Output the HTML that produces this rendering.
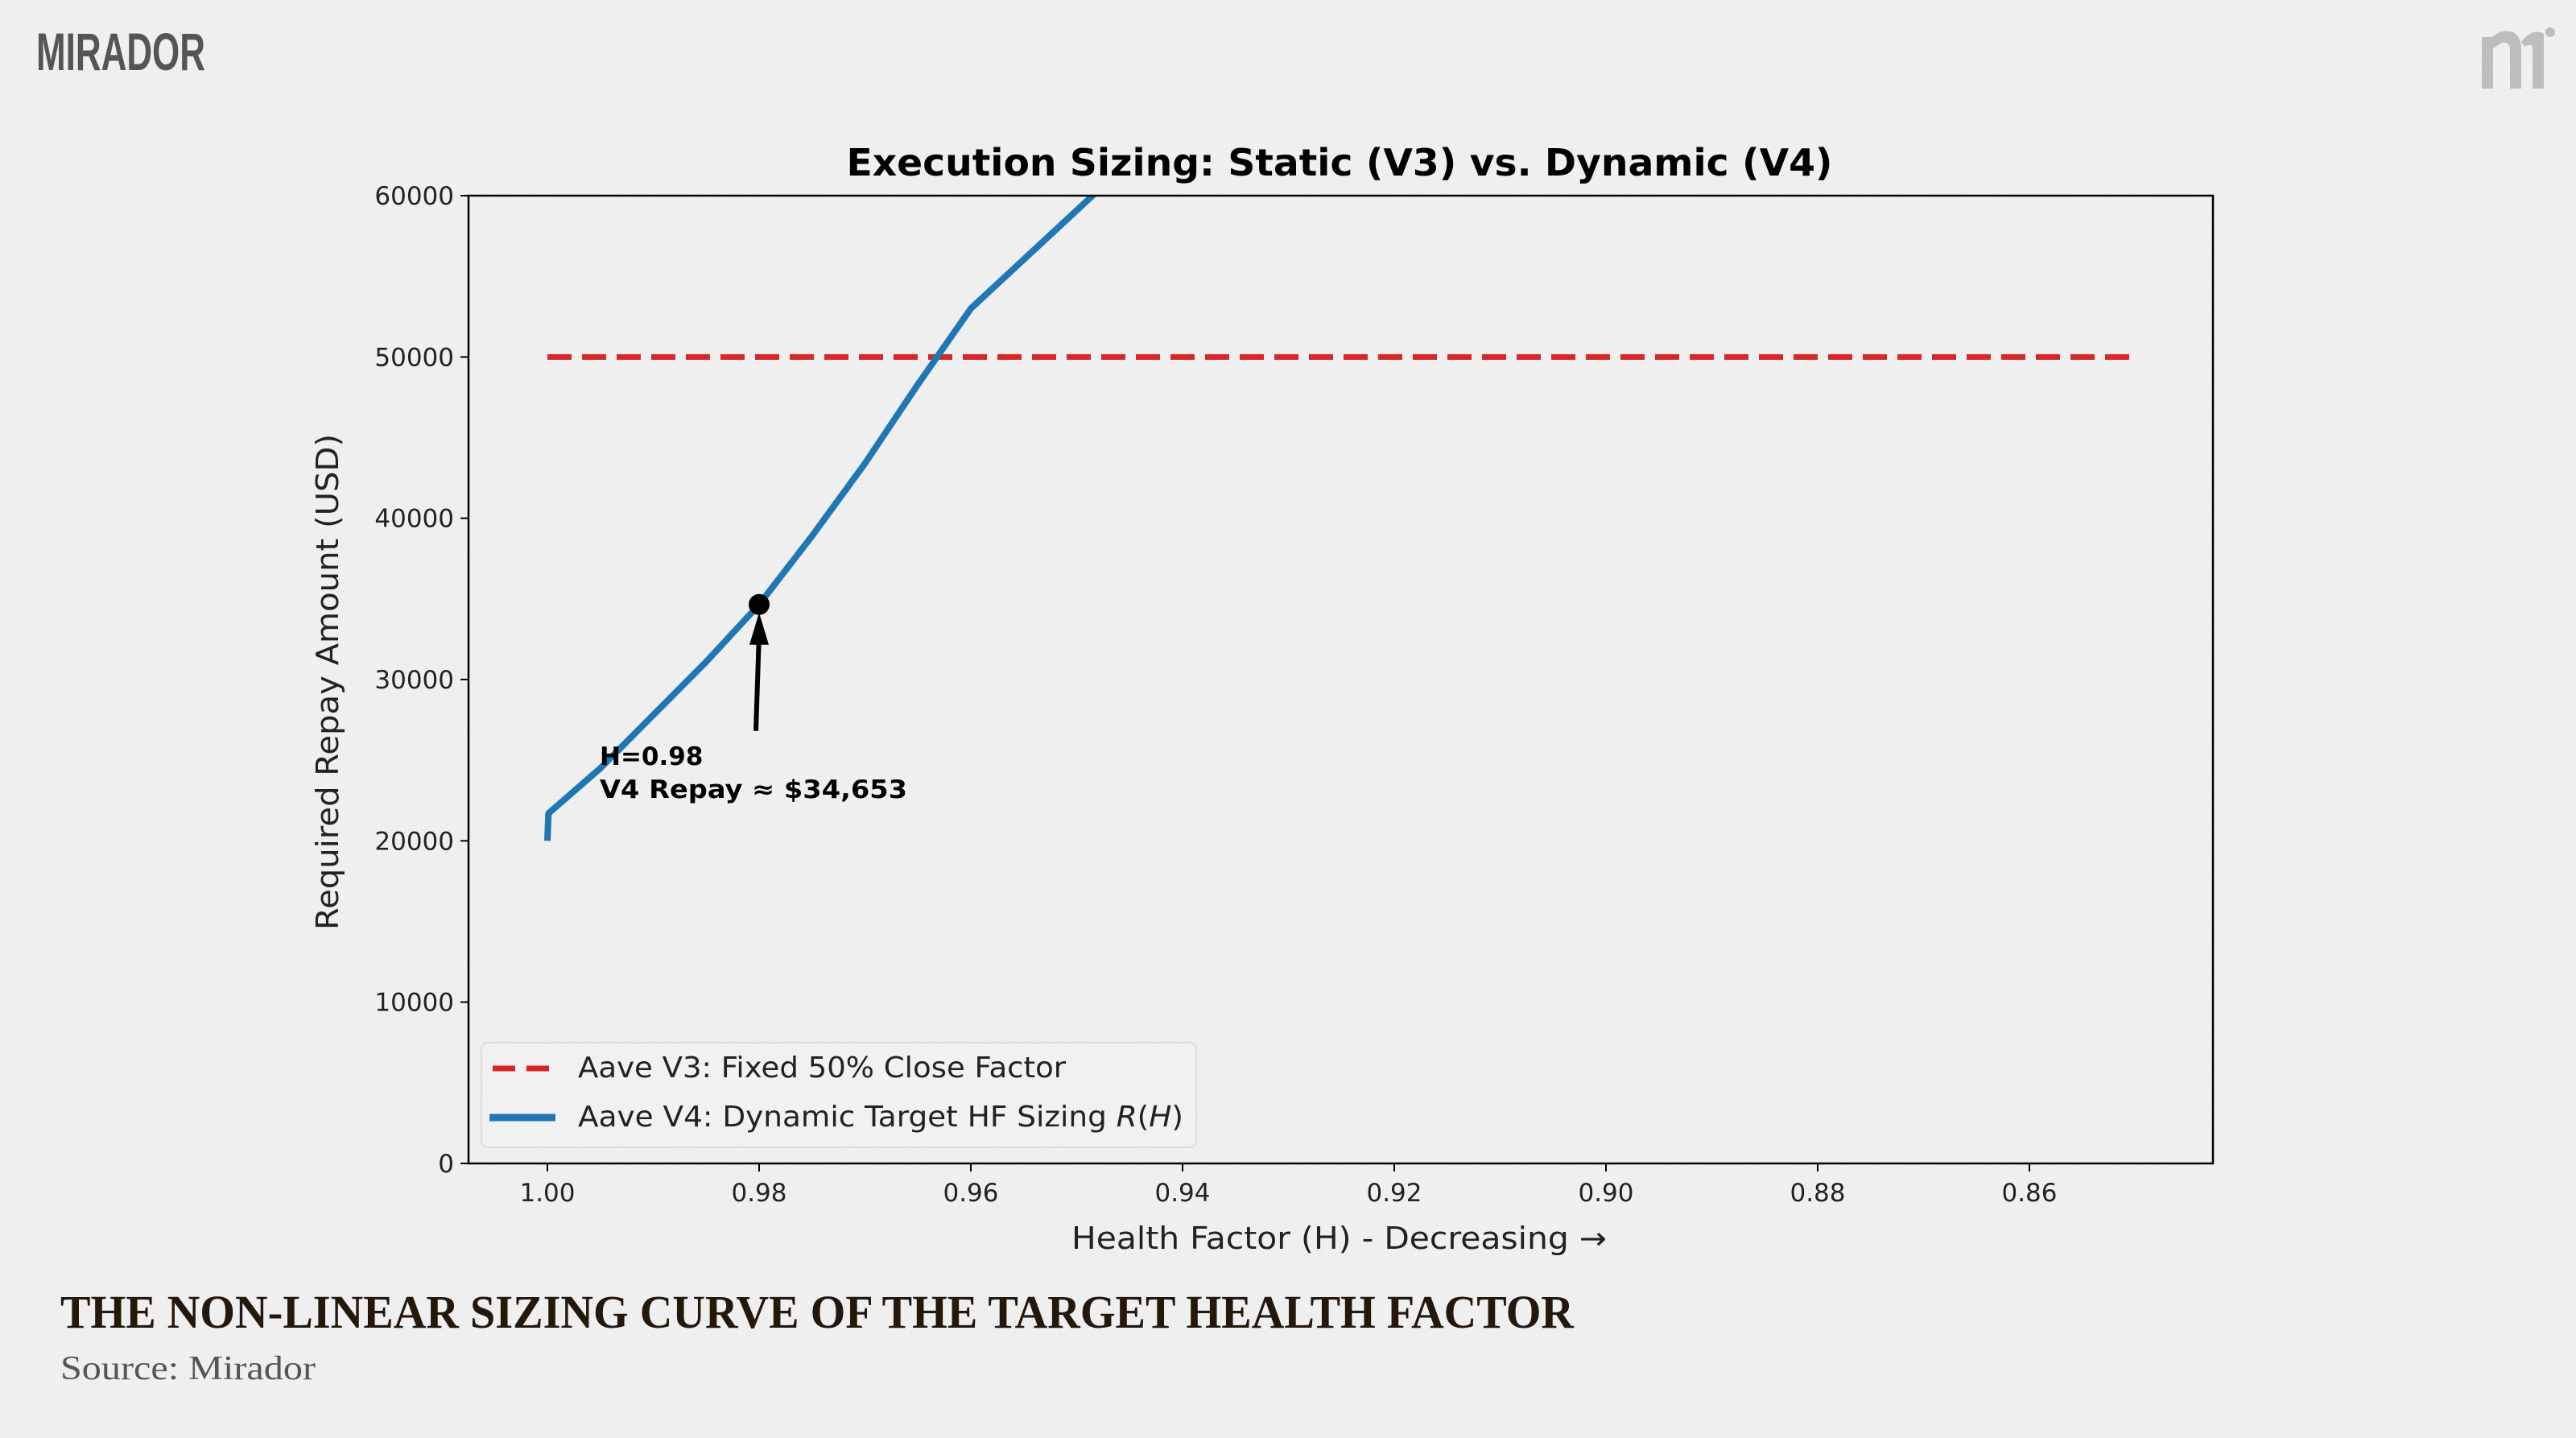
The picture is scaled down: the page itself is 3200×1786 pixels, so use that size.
<!DOCTYPE html>
<html><head><meta charset="utf-8"><style>
html,body{margin:0;padding:0;background:#efefef;}
svg{display:block;}
</style></head><body>
<svg id="chart" width="3200" height="1786" viewBox="0 0 3200 1786" xmlns="http://www.w3.org/2000/svg">
<defs>
<filter id="noise" x="0" y="0" width="100%" height="100%">
<feTurbulence type="fractalNoise" baseFrequency="0.9" numOctaves="1" seed="3"/>
<feColorMatrix values="0 0 0 0 0.45  0 0 0 0 0.45  0 0 0 0 0.45  0 0 0 -2.2 1.05"/>
</filter>
</defs>
<rect width="3200" height="1786" fill="#f1f1f1"/>
<rect width="3200" height="1786" filter="url(#noise)" opacity="0.35"/>
<text x="45" y="87" font-family="Liberation Sans Narrow, Liberation Sans, sans-serif" font-weight="bold" font-size="66" fill="#555" textLength="210" lengthAdjust="spacingAndGlyphs">MIRADOR</text>
<g fill="#bdbdbd">
<rect x="3083" y="46" width="14" height="64"/>
<path d="M3090 52 Q3105 34 3122 40 Q3132 46 3132 60 L3132 110 L3118 110 L3118 62 Q3118 52 3108 53 L3097 60 Z"/>
<path d="M3132 52 Q3146 34 3160 42 L3160 110 L3146 110 L3146 60 Q3146 53 3136 58 Z"/>
<circle cx="3168" cy="40" r="6"/>
</g>
<text x="1664" y="218" text-anchor="middle" font-family="DejaVu Sans, sans-serif" font-weight="bold" font-size="46" fill="#000" textLength="1225" lengthAdjust="spacingAndGlyphs">Execution Sizing: Static (V3) vs. Dynamic (V4)</text>
<g id="plot"></g>
<text transform="translate(420,847) rotate(-90)" text-anchor="middle" font-family="DejaVu Sans, sans-serif" font-size="38" fill="#222" textLength="616" lengthAdjust="spacingAndGlyphs">Required Repay Amount (USD)</text>
<text x="1331" y="1551" font-family="DejaVu Sans, sans-serif" font-size="38" fill="#222" textLength="665" lengthAdjust="spacingAndGlyphs">Health Factor (H) - Decreasing →</text>
<text x="75" y="1649" font-family="Liberation Serif, serif" font-weight="bold" font-size="58" fill="#24170c" textLength="1880" lengthAdjust="spacingAndGlyphs">THE NON-LINEAR SIZING CURVE OF THE TARGET HEALTH FACTOR</text>
<text x="75" y="1713" font-family="Liberation Serif, serif" font-size="42" fill="#555" textLength="317" lengthAdjust="spacingAndGlyphs">Source: Mirador</text>
</svg>
<script>
const xTicks = [1.00, 0.98, 0.96, 0.94, 0.92, 0.90, 0.88, 0.86];
const yTicks = [0, 10000, 20000, 30000, 40000, 50000, 60000];
const v4H = [1.000, 0.9999, 0.995, 0.99, 0.985, 0.98, 0.975, 0.97, 0.965, 0.96, 0.9485, 0.94];
const v4Repay = [20000, 21700, 24500, 27800, 31100, 34653, 38900, 43400, 48300, 53000, 60000, 66000];
const v3H = [1.00, 0.85];
const v3Repay = [50000, 50000];
const markerH = 0.98;
const markerValue = 34653;

const L=582,R=2749,T=243,B=1445;
const xs = h => 680 + (1.00 - h) / 0.14 * (2521 - 680);
const ys = v => B - v / 60000 * (B - T);
const NS='http://www.w3.org/2000/svg';
const plot=document.getElementById('plot');
function mk(tag, attrs, parent){const e=document.createElementNS(NS,tag);for(const k in attrs)e.setAttribute(k,attrs[k]);(parent||plot).appendChild(e);return e;}

const clip=mk('clipPath',{id:'pc'});mk('rect',{x:L,y:T,width:R-L,height:B-T},clip);

const v3=mk('polyline',{points:v3H.map((h,i)=>xs(h)+','+ys(v3Repay[i])).join(' '),fill:'none',stroke:'#d62728',"stroke-width":7,"stroke-dasharray":"30 13"});


const v4=mk('polyline',{points:v4H.map((h,i)=>xs(h)+','+ys(v4Repay[i])).join(' '),fill:'none',stroke:'#1f77b4',"stroke-width":8,"stroke-linejoin":"round","clip-path":"url(#pc)"});



const fr=mk('rect',{x:L,y:T,width:R-L,height:B-T,fill:'none',stroke:'#000','stroke-width':2.5});



xTicks.forEach(t=>{
  const x=xs(t);
  const tk=mk('line',{x1:x,x2:x,y1:B,y2:B+10,stroke:'#000','stroke-width':2});
  
  
  const lb=mk('text',{x:x,y:B+47,'text-anchor':'middle','font-family':'DejaVu Sans, sans-serif','font-size':31,fill:'#222'});
  lb.textContent=t.toFixed(2);
  
  
});
yTicks.forEach(t=>{
  const y=ys(t);
  const tk=mk('line',{x1:L-10,x2:L,y1:y,y2:y,stroke:'#000','stroke-width':2});
  
  
  const lb=mk('text',{x:L-18,y:y+11,'text-anchor':'end','font-family':'DejaVu Sans, sans-serif','font-size':31,fill:'#222'});
  lb.textContent=String(t);
  
  
});

const mx=xs(markerH), my=ys(markerValue);
const dot=mk('circle',{cx:mx,cy:my,r:13,fill:'#000'});


const ar=mk('line',{x1:mx-4,y1:my+157,x2:mx,y2:my+35,stroke:'#000','stroke-width':6});


const ah=mk('polygon',{points:`${mx},${my+10} ${mx-12},${my+50} ${mx+12},${my+50}`,fill:'#000'});


const a1=mk('text',{x:745,y:950,'font-family':'DejaVu Sans, sans-serif','font-weight':'bold','font-size':31,fill:'#000'});
a1.textContent='H='+markerH.toFixed(2);


const a2=mk('text',{x:745,y:991,'font-family':'DejaVu Sans, sans-serif','font-weight':'bold','font-size':31,fill:'#000',textLength:382,lengthAdjust:'spacingAndGlyphs'});
a2.textContent='V4 Repay ≈ $'+markerValue.toLocaleString('en-US');



const lg=mk('g',{});


mk('rect',{x:598,y:1295,width:888,height:130,rx:8,fill:'#f3f3f3','fill-opacity':0.5,stroke:'#ddd','stroke-width':2},lg);
const l1=mk('line',{x1:612,x2:690,y1:1327,y2:1327,stroke:'#d62728','stroke-width':7,'stroke-dasharray':'28 14'},lg);


const t1=mk('text',{x:718,y:1338,'font-family':'DejaVu Sans, sans-serif','font-size':36,fill:'#222',textLength:606,lengthAdjust:'spacingAndGlyphs'},lg);
t1.textContent='Aave V3: Fixed 50% Close Factor';


const l2=mk('line',{x1:608,x2:690,y1:1388,y2:1388,stroke:'#1f77b4','stroke-width':9},lg);


const t2=mk('text',{x:718,y:1399,'font-family':'DejaVu Sans, sans-serif','font-size':36,fill:'#222',textLength:752,lengthAdjust:'spacingAndGlyphs'},lg);
t2.innerHTML='Aave V4: Dynamic Target HF Sizing <tspan font-style="italic">R</tspan>(<tspan font-style="italic">H</tspan>)';


</script>
</body></html>
